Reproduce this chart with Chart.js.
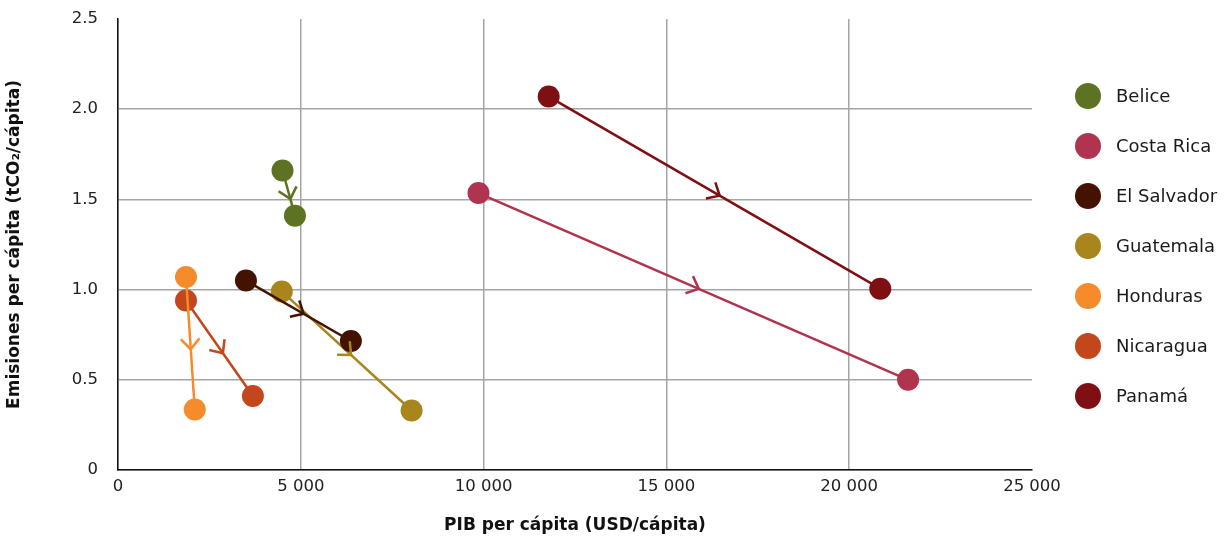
<!DOCTYPE html>
<html>
<head>
<meta charset="utf-8">
<script src="https://cdn.jsdelivr.net/npm/chart.js@4"></script>
<style>
  html, body { margin: 0; padding: 0; background: #fff; }
  #wrap { width: 1227px; height: 540px; }
</style>
</head>
<body>
<div id="wrap"><canvas id="myChart" width="1227" height="540"></canvas></div>
<script>
// Datos: PIB per cápita (USD) y emisiones per cápita (tCO2), punto inicial -> punto final
const paises = ['Belice', 'Costa Rica', 'El Salvador', 'Guatemala', 'Honduras', 'Nicaragua', 'Panamá'];
const colores = ['#5e7223', '#b0334f', '#431200', '#a8861d', '#f68b2b', '#c4461c', '#7f0f12'];
const pibInicio = [4500, 9860, 3500, 4480, 1860, 1860, 11780];
const emisInicio = [1.66, 1.535, 1.05, 0.99, 1.07, 0.94, 2.07];
const pibFin = [4840, 21610, 6370, 8030, 2100, 3690, 20850];
const emisFin = [1.41, 0.50, 0.715, 0.33, 0.335, 0.41, 1.005];
const ticksX = [0, 5000, 10000, 15000, 20000, 25000];
const ticksY = [0, 0.5, 1.0, 1.5, 2.0, 2.5];

const fuente = "'DejaVu Sans', sans-serif";

const datasets = paises.map((p, i) => ({
  label: p,
  data: [{x: pibInicio[i], y: emisInicio[i]}, {x: pibFin[i], y: emisFin[i]}],
  showLine: true,
  borderColor: colores[i],
  backgroundColor: colores[i],
  borderWidth: 2.5,
  pointRadius: 11,
  pointHoverRadius: 11,
  pointBorderWidth: 0
}));

// Flecha abierta sobre cada línea (un poco después del punto medio)
const flechas = {
  id: 'flechas',
  afterDatasetsDraw(chart) {
    const ctx = chart.ctx;
    chart.data.datasets.forEach((ds, i) => {
      const pts = chart.getDatasetMeta(i).data;
      const a = pts[0], b = pts[1];
      const ang = Math.atan2(b.y - a.y, b.x - a.x);
      const mx = (a.x + b.x) / 2 + 6 * Math.cos(ang);
      const my = (a.y + b.y) / 2 + 6 * Math.sin(ang);
      const len = 14, ab = Math.PI / 4.3;
      ctx.save();
      ctx.strokeStyle = ds.borderColor;
      ctx.lineWidth = 2.5;
      ctx.beginPath();
      ctx.moveTo(mx - len * Math.cos(ang - ab), my - len * Math.sin(ang - ab));
      ctx.lineTo(mx, my);
      ctx.lineTo(mx - len * Math.cos(ang + ab), my - len * Math.sin(ang + ab));
      ctx.stroke();
      ctx.restore();
    });
  }
};

// Leyenda a la derecha
const leyenda = {
  id: 'leyenda',
  afterDraw(chart) {
    const ctx = chart.ctx;
    ctx.save();
    chart.data.datasets.forEach((ds, i) => {
      const y = 96 + i * 50;
      ctx.fillStyle = ds.backgroundColor;
      ctx.beginPath();
      ctx.arc(1088, y, 13, 0, Math.PI * 2);
      ctx.fill();
      ctx.fillStyle = '#1a1a1a';
      ctx.font = '18px ' + fuente;
      ctx.textBaseline = 'middle';
      ctx.fillText(ds.label, 1116, y + 1);
    });
    ctx.restore();
  }
};

const ctx = document.getElementById('myChart').getContext('2d');
new Chart(ctx, {
  type: 'scatter',
  data: { datasets: datasets },
  options: {
    responsive: false,
    animation: false,
    layout: { padding: { top: 19, right: 195, left: 0, bottom: 0 } },
    plugins: { legend: { display: false }, tooltip: { enabled: false } },
    scales: {
      x: {
        type: 'linear',
        min: 0, max: 25000,
        afterBuildTicks: s => { s.ticks = ticksX.map(v => ({value: v})); },
        afterFit: s => { s.height = 70; s.paddingLeft = 0; s.paddingRight = 0; },
        ticks: {
          color: '#222', padding: 7,
          font: { family: fuente, size: 16.5 },
          callback: v => v.toLocaleString('en-US').replace(',', ' ')
        },
        grid: {
          drawTicks: false,
          lineWidth: 1.5,
          color: c => (c.tick && (c.tick.value === 25000)) ? 'rgba(0,0,0,0)' : '#a3a5a5'
        },
        border: { color: '#111', width: 1.5 },
        title: {
          display: true, text: 'PIB per cápita (USD/cápita)', color: '#111',
          font: { family: fuente, size: 17, weight: 'bold' }, padding: { top: 12 }
        }
      },
      y: {
        type: 'linear',
        min: 0, max: 2.5,
        afterBuildTicks: s => { s.ticks = ticksY.map(v => ({value: v})); },
        afterFit: s => { s.width = 118; s.paddingTop = 0; s.paddingBottom = 0; },
        ticks: {
          color: '#222', padding: 20,
          font: { family: fuente, size: 16.5 },
          callback: v => v === 0 ? '0' : v.toFixed(1)
        },
        grid: {
          drawTicks: false,
          lineWidth: 1.5,
          color: c => (c.tick && (c.tick.value === 2.5)) ? 'rgba(0,0,0,0)' : '#a3a5a5'
        },
        border: { color: '#111', width: 1.5 },
        title: {
          display: true, text: 'Emisiones per cápita (tCO₂/cápita)', color: '#111',
          font: { family: fuente, size: 17, weight: 'bold' }, padding: { bottom: 4 }
        }
      }
    }
  },
  plugins: [flechas, leyenda]
});
</script>
</body>
</html>
